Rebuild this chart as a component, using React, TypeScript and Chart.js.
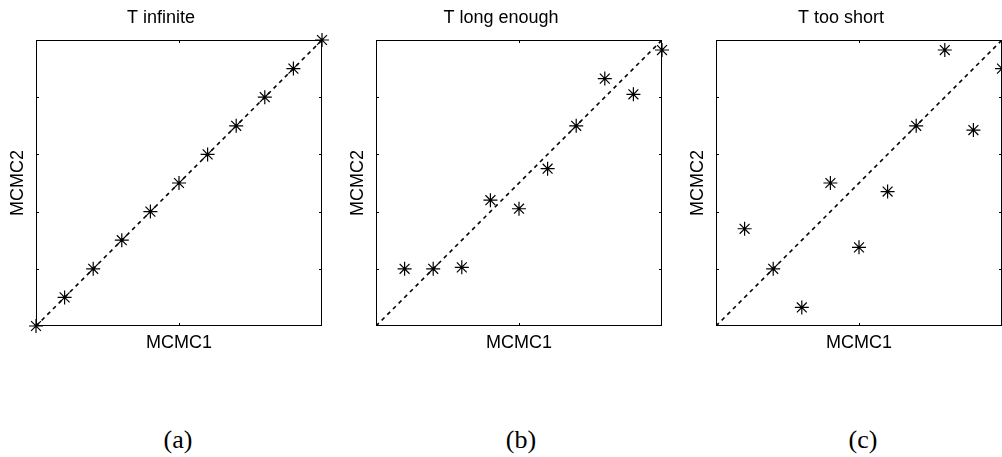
import React, { useEffect, useRef } from "react";
import { Chart, registerables } from "chart.js";

Chart.register(...registerables);

// Panel titles, axis labels and sub-figure captions
const panelTitles = ["T infinite", "T long enough", "T too short"];
const panelCaptions = ["(a)", "(b)", "(c)"];
const xAxisLabel = "MCMC1";
const yAxisLabel = "MCMC2";

// Quantiles of chain 1 (x) against chain 2 (y) for each run length
const xInfinite = [0, 0.1, 0.2, 0.3, 0.4, 0.5, 0.6, 0.7, 0.8, 0.9, 1];
const yInfinite = [0, 0.1, 0.2, 0.3, 0.4, 0.5, 0.6, 0.7, 0.8, 0.9, 1];

const xLongEnough = [0.1, 0.2, 0.3, 0.4, 0.5, 0.6, 0.7, 0.8, 0.9, 1];
const yLongEnough = [0.2, 0.2, 0.205, 0.44, 0.41, 0.55, 0.7, 0.865, 0.81, 0.965];

const xTooShort = [0.1, 0.2, 0.3, 0.4, 0.5, 0.6, 0.7, 0.8, 0.9, 1];
const yTooShort = [0.34, 0.2, 0.065, 0.5, 0.275, 0.47, 0.7, 0.965, 0.685, 0.9];

// Reference diagonal y = x
const diagonalX = [0, 1];
const diagonalY = [0, 1];

// Axis ranges and tick spacing
const axisMin = 0;
const axisMax = 1;
const xTickStep = 0.5;
const yTickStep = 0.2;

const SANS = "'Liberation Sans', Arial, Helvetica, sans-serif";
const SERIF = "'Liberation Serif', 'Times New Roman', serif";

// Draws the boxed axes with short inward tick marks on all four sides
const boxAxesPlugin = {
  id: "boxAxes",
  beforeDatasetsDraw(chart: any) {
    const { ctx, chartArea, scales } = chart;
    const { left, top, right, bottom } = chartArea;
    const tickLen = 3;
    ctx.save();
    ctx.strokeStyle = "#000";
    ctx.lineWidth = 1;
    ctx.strokeRect(left + 0.5, top + 0.5, right - left - 1, bottom - top - 1);
    ctx.beginPath();
    for (const t of scales.x.ticks) {
      const px = Math.round(scales.x.getPixelForValue(t.value)) + 0.5;
      if (px <= left + 1 || px >= right - 1) continue;
      ctx.moveTo(px, bottom);
      ctx.lineTo(px, bottom - tickLen);
      ctx.moveTo(px, top);
      ctx.lineTo(px, top + tickLen);
    }
    for (const t of scales.y.ticks) {
      const py = Math.round(scales.y.getPixelForValue(t.value)) + 0.5;
      if (py <= top + 1 || py >= bottom - 1) continue;
      ctx.moveTo(left, py);
      ctx.lineTo(left + tickLen, py);
      ctx.moveTo(right, py);
      ctx.lineTo(right - tickLen, py);
    }
    ctx.stroke();
    ctx.restore();
  },
};

type PanelProps = {
  title: string;
  xs: number[];
  ys: number[];
  left: number;
};

function Panel({ title, xs, ys, left }: PanelProps) {
  const ref = useRef<HTMLCanvasElement>(null);

  useEffect(() => {
    if (!ref.current) return;
    const labelFont = { family: SANS, size: 18, weight: "normal" as const, lineHeight: 1.2 };
    const chart = new Chart(ref.current, {
      type: "scatter",
      data: {
        datasets: [
          {
            type: "line",
            data: diagonalX.map((x, i) => ({ x, y: diagonalY[i] })),
            borderColor: "#000",
            borderWidth: 1.6,
            borderDash: [4, 4],
            pointRadius: 0,
            fill: false,
            tension: 0,
          } as any,
          {
            data: xs.map((x, i) => ({ x, y: ys[i] })),
            pointStyle: "star",
            pointRadius: 7,
            pointHoverRadius: 7,
            borderColor: "#000",
            backgroundColor: "rgba(0,0,0,0)",
            borderWidth: 1.2,
            clip: false,
          } as any,
        ],
      },
      options: {
        responsive: false,
        animation: false,
        events: [],
        layout: { padding: { left: 0, top: 0, right: 18, bottom: 10 } },
        plugins: {
          legend: { display: false },
          tooltip: { enabled: false },
          title: {
            display: true,
            text: title,
            color: "#000",
            font: labelFont,
            padding: { top: 7.2, bottom: 11.2 },
          },
        },
        scales: {
          x: {
            type: "linear",
            min: axisMin,
            max: axisMax,
            ticks: { display: false, stepSize: xTickStep },
            grid: { display: false },
            border: { display: false },
            title: {
              display: true,
              text: xAxisLabel,
              color: "#000",
              font: labelFont,
              padding: { top: 0, bottom: 6.2 },
            },
            afterFit: (s: any) => {
              s.height = 34;
            },
          },
          y: {
            type: "linear",
            min: axisMin,
            max: axisMax,
            ticks: { display: false, stepSize: yTickStep },
            grid: { display: false },
            border: { display: false },
            title: {
              display: true,
              text: yAxisLabel,
              color: "#000",
              font: labelFont,
              padding: { top: 7.7, bottom: 0 },
            },
            afterFit: (s: any) => {
              s.width = 36;
            },
          },
        },
      },
      plugins: [boxAxesPlugin],
    });
    return () => chart.destroy();
  }, [title, xs, ys]);

  return (
    <canvas
      ref={ref}
      width={340}
      height={370}
      style={{ position: "absolute", left, top: 0, width: 340, height: 370 }}
    />
  );
}

const panelData = [
  { xs: xInfinite, ys: yInfinite },
  { xs: xLongEnough, ys: yLongEnough },
  { xs: xTooShort, ys: yTooShort },
];
const panelLefts = [0, 340, 680];
const captionCenters = [178, 521, 863];

export default function App() {
  return (
    <div
      style={{
        position: "absolute",
        left: 0,
        top: 0,
        width: 1002,
        height: 457,
        overflow: "hidden",
        background: "#fff",
      }}
    >
      {panelData.map((p, i) => (
        <Panel key={i} title={panelTitles[i]} xs={p.xs} ys={p.ys} left={panelLefts[i]} />
      ))}
      {panelCaptions.map((c, i) => (
        <div
          key={c}
          style={{
            position: "absolute",
            left: captionCenters[i] - 50,
            top: 424,
            width: 100,
            height: 32,
            lineHeight: "32px",
            textAlign: "center",
            fontFamily: SERIF,
            fontSize: 26,
            color: "#000",
          }}
        >
          {c}
        </div>
      ))}
    </div>
  );
}
